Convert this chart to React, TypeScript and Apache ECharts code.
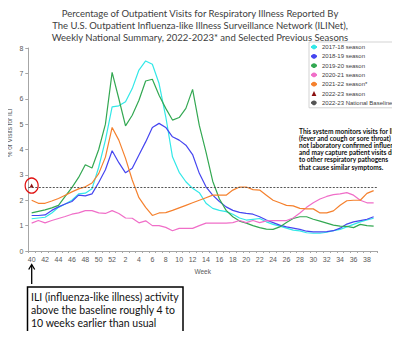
import React, { useEffect, useRef } from "react";
import * as echarts from "echarts";

const weeks: string[] = [
  "40","41","42","43","44","45","46","47","48","49","50","51","52",
  "1","2","3","4","5","6","7","8","9","10","11","12","13","14","15","16","17","18","19","20",
  "21","22","23","24","25","26","27","28","29","30","31","32","33","34","35","36","37","38","39",
];

const s2017: number[] = [
  1.27, 1.3, 1.33, 1.5, 1.72, 1.85, 2.0, 2.25, 2.28, 2.45, 3.3, 4.37, 5.68,
  5.72, 5.88, 6.4, 7.13, 7.49, 7.36, 6.6, 5.29, 3.71, 3.1, 2.73, 2.47, 2.3, 1.88, 1.68, 1.6, 1.55, 1.45, 1.3, 1.22,
  1.25, 1.28, 1.15, 1.05, 0.98, 0.9, 0.82, 0.79, 0.72, 0.7, 0.7, 0.74, 0.8, 0.85, 0.95, 1.05, 1.15, 1.22, 1.29,
];
const s2018: number[] = [
  1.4, 1.4, 1.42, 1.6, 1.74, 1.85, 1.95, 2.2, 2.17, 2.25, 2.7, 3.2, 3.95,
  3.48, 3.08, 3.26, 3.78, 4.3, 4.87, 5.03, 4.87, 4.5, 4.37, 4.17, 3.8, 3.06, 2.53, 2.2, 1.95, 1.74, 1.6, 1.52, 1.48,
  1.45, 1.35, 1.22, 1.12, 1.02, 0.95, 0.9, 0.85, 0.78, 0.75, 0.75, 0.76, 0.8, 0.9, 1.06, 1.15, 1.2, 1.25, 1.35,
];
const s2019: number[] = [
  1.5, 1.56, 1.62, 1.7, 1.8, 2.15, 2.5, 2.9, 3.4, 3.27, 4.0, 5.0, 7.04,
  6.0, 4.93, 5.35, 5.94, 6.7, 6.77, 6.14, 5.62, 5.16, 5.26, 5.62, 6.37, 4.95, 3.9, 2.75, 2.05, 1.6, 1.35, 1.18, 1.1,
  1.0, 0.92, 0.86, 0.85, 0.95, 1.12, 1.28, 1.35, 1.35, 1.25, 1.18, 1.1, 1.02, 0.98, 0.97, 0.92, 1.05, 1.0, 0.98,
];
const s2020: number[] = [
  1.1, 1.2, 1.11, 1.2, 1.28, 1.36, 1.45, 1.5, 1.59, 1.59, 1.5, 1.48, 1.59,
  1.48, 1.3, 1.29, 1.11, 1.19, 1.0, 1.0, 0.93, 0.8, 0.89, 0.89, 0.89, 1.0, 1.1, 1.1, 1.1, 1.1, 1.12, 1.2, 1.12,
  1.2, 1.12, 1.19, 1.2, 1.2, 1.2, 1.3, 1.5, 1.72, 1.9, 2.05, 2.15, 2.22, 2.25, 2.3, 2.2, 2.0, 1.9, 1.9,
];
const s2021: number[] = [
  2.0, 1.88, 1.88, 1.97, 2.07, 2.2, 2.33, 2.45, 2.53, 2.68, 3.05, 3.7, 4.87,
  4.37, 3.65, 2.8, 2.1, 1.72, 1.4, 1.5, 1.51, 1.6, 1.7, 1.8, 1.9, 2.0, 2.1, 2.2, 2.2, 2.2, 2.4, 2.52, 2.52,
  2.42, 2.4, 2.2, 2.0, 1.9, 1.8, 1.78, 1.68, 1.66, 1.66, 1.5, 1.5, 1.58, 1.8, 1.98, 2.0, 2.0, 2.27, 2.38,
];
const s2022: (number | null)[] = [2.58];
const baseline = 2.5;

const yTicks = { min: 0, max: 8, interval: 1 };

const titleLines = [
  "Percentage of Outpatient Visits for Respiratory Illness Reported By",
  "The U.S. Outpatient Influenza-like Illness Surveillance Network (ILINet),",
  "Weekly National Summary, 2022-2023* and Selected Previous Seasons",
];
const noteLines = [
  "This system monitors visits for ILI",
  "(fever and cough or sore throat)",
  "not laboratory confirmed influenza",
  "and may capture patient visits due",
  "to other respiratory pathogens",
  "that cause similar symptoms.",
];
const boxLines = [
  "ILI (influenza-like illness) activity",
  "above the baseline roughly 4 to",
  "10 weeks earlier than usual",
];

const names = [
  "2017-18 season",
  "2018-19 season",
  "2019-20 season",
  "2020-21 season",
  "2021-22 season*",
  "2022-23 season",
  "2022-23 National Baseline",
];
const colors = ["#33e8e8", "#4646f0", "#33a852", "#f06ec8", "#f5812e", "#8b1010", "#555555"];

export default function App() {
  const ref = useRef<HTMLDivElement>(null);
  useEffect(() => {
    if (!ref.current) return;
    const chart = echarts.init(ref.current, undefined, { renderer: "svg" });
    const seriesData = [s2017, s2018, s2019, s2020, s2021];
    const lines: any[] = seriesData.map((d, i) => ({
      name: names[i],
      type: "line",
      data: d,
      symbol: "none",
      lineStyle: { color: colors[i], width: 1.2 },
      itemStyle: { color: colors[i] },
      z: 3,
    }));
    lines.push({
      name: names[5],
      type: "line",
      data: s2022,
      symbol: "triangle",
      symbolSize: 4,
      showSymbol: true,
      lineStyle: { width: 0, color: colors[5] },
      itemStyle: { color: colors[5] },
      markPoint: {
        symbol: "circle",
        symbolSize: [13, 15],
        silent: true,
        label: { show: false },
        itemStyle: { color: "rgba(0,0,0,0)", borderColor: "#e01010", borderWidth: 1.3 },
        data: [{ coord: [0, s2022[0]] }],
      },
      z: 5,
    });
    lines.push({
      name: names[6],
      type: "line",
      data: [],
      symbol: "none",
      lineStyle: { color: colors[6], width: 1.2, type: [2, 1.5] },
      itemStyle: { color: colors[6] },
      markLine: {
        silent: true,
        symbol: "none",
        label: { show: false },
        lineStyle: { color: colors[6], width: 1.2, type: [2, 1.5] },
        data: [{ yAxis: baseline }],
      },
      z: 2,
    });

    const graphic: any[] = [
      {
        type: "text",
        x: 9,
        y: 133,
        rotation: Math.PI / 2,
        style: {
          text: "% of Visits for ILI",
          fontSize: 6.5,
          fontFamily: "Liberation Sans",
          fill: "#595959",
          align: "center",
          verticalAlign: "middle",
        },
      },
      ...noteLines.map((t, i) => ({
        type: "text",
        x: 299,
        y: 130.5 + i * 7.2,
        style: {
          text: t,
          fontSize: 6.6,
          fontWeight: "bold",
          fontFamily: "Lato",
          fill: "#111",
          align: "left",
          verticalAlign: "middle",
        },
      })),
      {
        type: "line",
        shape: { x1: 31.7, y1: 265, x2: 31.7, y2: 284 },
        style: { stroke: "#000", lineWidth: 1.3 },
      },
      {
        type: "polyline",
        shape: { points: [[28.7, 269.5], [31.7, 264.5], [34.7, 269.5]] },
        style: { stroke: "#000", lineWidth: 1.3, fill: "none" },
      },
      {
        type: "rect",
        shape: { x: 27.5, y: 287, width: 155.5, height: 47.5 },
        style: { stroke: "#000", lineWidth: 1.5, fill: "#fff" },
      },
      ...boxLines.map((t, i) => ({
        type: "text",
        x: 31,
        y: 296.5 + i * 13,
        style: {
          text: t,
          fontSize: 10.5,
          fontFamily: "Lato",
          fill: "#111",
          align: "left",
          verticalAlign: "middle",
        },
      })),
    ];

    chart.setOption({
      animation: false,
      backgroundColor: "#fff",
      title: {
        text: titleLines.join("\n"),
        left: "center",
        top: 2,
        textStyle: {
          fontSize: 9.5,
          lineHeight: 12,
          fontWeight: "normal",
          fontFamily: "Lato",
          color: "#404040",
        },
      },
      legend: {
        data: names,
        orient: "vertical",
        left: 309,
        top: 42,
        padding: [2, 3, 2, 1],
        itemWidth: 6,
        itemHeight: 6,
        itemGap: 3.3,
        borderColor: "#c8c8c8",
        borderWidth: 0.8,
        backgroundColor: "#fff",
        textStyle: { fontSize: 6, fontFamily: "Liberation Sans", color: "#404040" },
        selectedMode: false,
      },
      grid: { left: 28.3, right: 23, top: 48, bottom: 88, containLabel: false },
      xAxis: {
        type: "category",
        data: weeks,
        boundaryGap: true,
        name: "Week",
        nameLocation: "middle",
        nameGap: 16,
        nameTextStyle: { fontSize: 6.5, fontFamily: "Liberation Sans", color: "#595959" },
        axisLine: { lineStyle: { color: "#a6a6a6", width: 1 } },
        axisTick: { show: true, interval: 0, length: 2, lineStyle: { color: "#a6a6a6" } },
        axisLabel: {
          interval: 1,
          fontSize: 7,
          fontFamily: "Liberation Sans",
          color: "#595959",
          margin: 5,
        },
        splitLine: { show: false },
      },
      yAxis: {
        type: "value",
        min: yTicks.min,
        max: yTicks.max,
        interval: yTicks.interval,
        axisLine: { show: true, lineStyle: { color: "#a6a6a6", width: 1 } },
        axisTick: { show: true, length: 3, lineStyle: { color: "#a6a6a6" } },
        axisLabel: { fontSize: 7, fontFamily: "Liberation Sans", color: "#595959", margin: 5 },
        splitLine: { show: false },
      },
      series: lines,
      graphic,
    });
    return () => chart.dispose();
  }, []);
  return <div ref={ref} style={{ width: 400, height: 339, margin: -8 }} />;
}
